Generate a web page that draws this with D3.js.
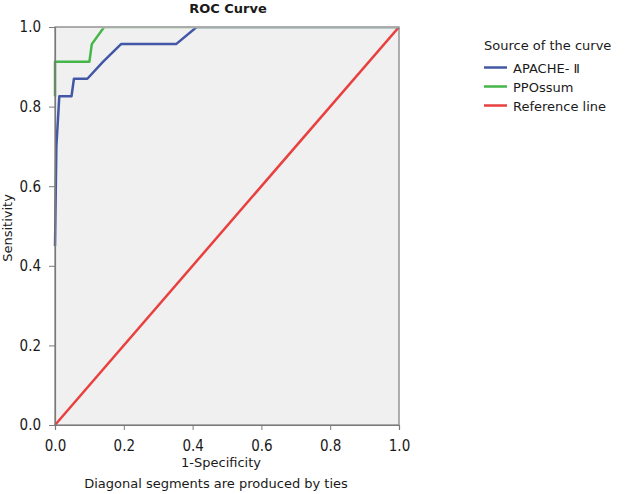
<!DOCTYPE html>
<html>
<head>
<meta charset="utf-8">
<script src="https://cdn.jsdelivr.net/npm/d3@7"></script>
<style>
  body { margin: 0; background: #fff; }
  text { font-family: "DejaVu Sans", Verdana, sans-serif; fill: #1a1a1a; }
  .tick text { font-family: "DejaVu Sans Condensed", "DejaVu Sans", sans-serif; font-stretch: condensed; }
</style>
</head>
<body>
<svg id="chart"></svg>
<script>
const WIDTH = 629;
const HEIGHT = 494;

// curve points [1-specificity, sensitivity]
const apacheCurve = [[0, 0.45], [0.004, 0.70], [0.0125, 0.826], [0.048, 0.826], [0.055, 0.870],
    [0.094, 0.870], [0.14, 0.913], [0.192, 0.957], [0.352, 0.957], [0.412, 1.0], [1.0, 1.0]];
const pposCurve = [[0, 0.826], [0, 0.913], [0.10, 0.913], [0.107, 0.957], [0.143, 1.0], [1.0, 1.0]];
const refLine = [[0, 0], [1, 1]];

const seriesNames = ['APACHE- \u2161', 'PPOssum', 'Reference line'];
const seriesColors = ['#4257a6', '#45b649', '#e8403e'];
const tickValues = [0, 0.2, 0.4, 0.6, 0.8, 1.0];

window.onload = function(){
    makeChart();
};

function makeChart(){
    const svg = d3.select('#chart')
        .attr('width', WIDTH)
        .attr('height', HEIGHT);

    const left = 55, right = 399, top = 27, bottom = 425;

    const x = d3.scaleLinear().domain([0, 1]).range([left, right]);
    const y = d3.scaleLinear().domain([0, 1]).range([bottom, top]);

    // plot background
    svg.append('rect')
        .attr('x', left).attr('y', top)
        .attr('width', right - left).attr('height', bottom - top)
        .style('fill', '#f0f0f0');

    // lines running along the top edge sit under the frame
    svg.append('clipPath').attr('id', 'plotClip')
        .append('rect')
        .attr('x', left - 5).attr('y', top + 1.3)
        .attr('width', right - left + 10).attr('height', bottom - top);

    const line = d3.line().x(d => x(d[0])).y(d => y(d[1]));

    const curves = [apacheCurve, pposCurve, refLine];
    const curveG = svg.append('g').attr('clip-path', 'url(#plotClip)');
    [2, 1, 0].forEach(i => {
        curveG.append('path')
            .datum(curves[i])
            .attr('d', line)
            .style('fill', 'none')
            .style('stroke', seriesColors[i])
            .style('stroke-width', 2.5)
            .style('stroke-linejoin', 'round');
    });

    // frame
    svg.append('rect')
        .attr('x', left).attr('y', top)
        .attr('width', right - left).attr('height', bottom - top)
        .style('fill', 'none')
        .style('stroke', '#7a7a7a')
        .style('stroke-width', 1.2);

    // axes
    const xAxis = svg.append('g')
        .attr('transform', `translate(0,${bottom})`)
        .call(d3.axisBottom(x).tickValues(tickValues).tickFormat(d3.format('.1f')).tickSize(5).tickPadding(10));
    const yAxis = svg.append('g')
        .attr('transform', `translate(${left},0)`)
        .call(d3.axisLeft(y).tickValues(tickValues).tickFormat(d3.format('.1f')).tickSize(6).tickPadding(8));

    [xAxis, yAxis].forEach(a => {
        a.selectAll('.domain').style('stroke', '#7a7a7a').style('stroke-width', 1.2);
        a.selectAll('line').style('stroke', '#7a7a7a');
        a.selectAll('text').style('font-size', '15px').style('fill', '#1a1a1a');
    });

    // titles
    svg.append('text')
        .attr('x', 228).attr('y', 13)
        .attr('text-anchor', 'middle')
        .style('font-size', '13px').style('font-weight', 'bold')
        .text('ROC Curve');

    svg.append('text')
        .attr('x', 221).attr('y', 467)
        .attr('text-anchor', 'middle')
        .style('font-size', '13px')
        .text('1-Specificity');

    svg.append('text')
        .attr('x', 216).attr('y', 488)
        .attr('text-anchor', 'middle')
        .style('font-size', '13px')
        .text('Diagonal segments are produced by ties');

    svg.append('text')
        .attr('transform', 'translate(12,228) rotate(-90)')
        .attr('text-anchor', 'middle')
        .style('font-size', '13px')
        .text('Sensitivity');

    // legend
    svg.append('text')
        .attr('x', 484).attr('y', 50)
        .style('font-size', '13px')
        .text('Source of the curve');

    const legend = svg.append('g').attr('transform', 'translate(484,67.5)');
    seriesNames.forEach((name, i) => {
        const g = legend.append('g').attr('transform', `translate(0,${i * 19})`);
        g.append('line')
            .attr('x1', 0).attr('x2', 23).attr('y1', 0).attr('y2', 0)
            .style('stroke', seriesColors[i])
            .style('stroke-width', 2.5);
        g.append('text')
            .attr('x', 29).attr('y', 5)
            .style('font-size', '13px')
            .text(name);
    });
}
</script>
</body>
</html>
